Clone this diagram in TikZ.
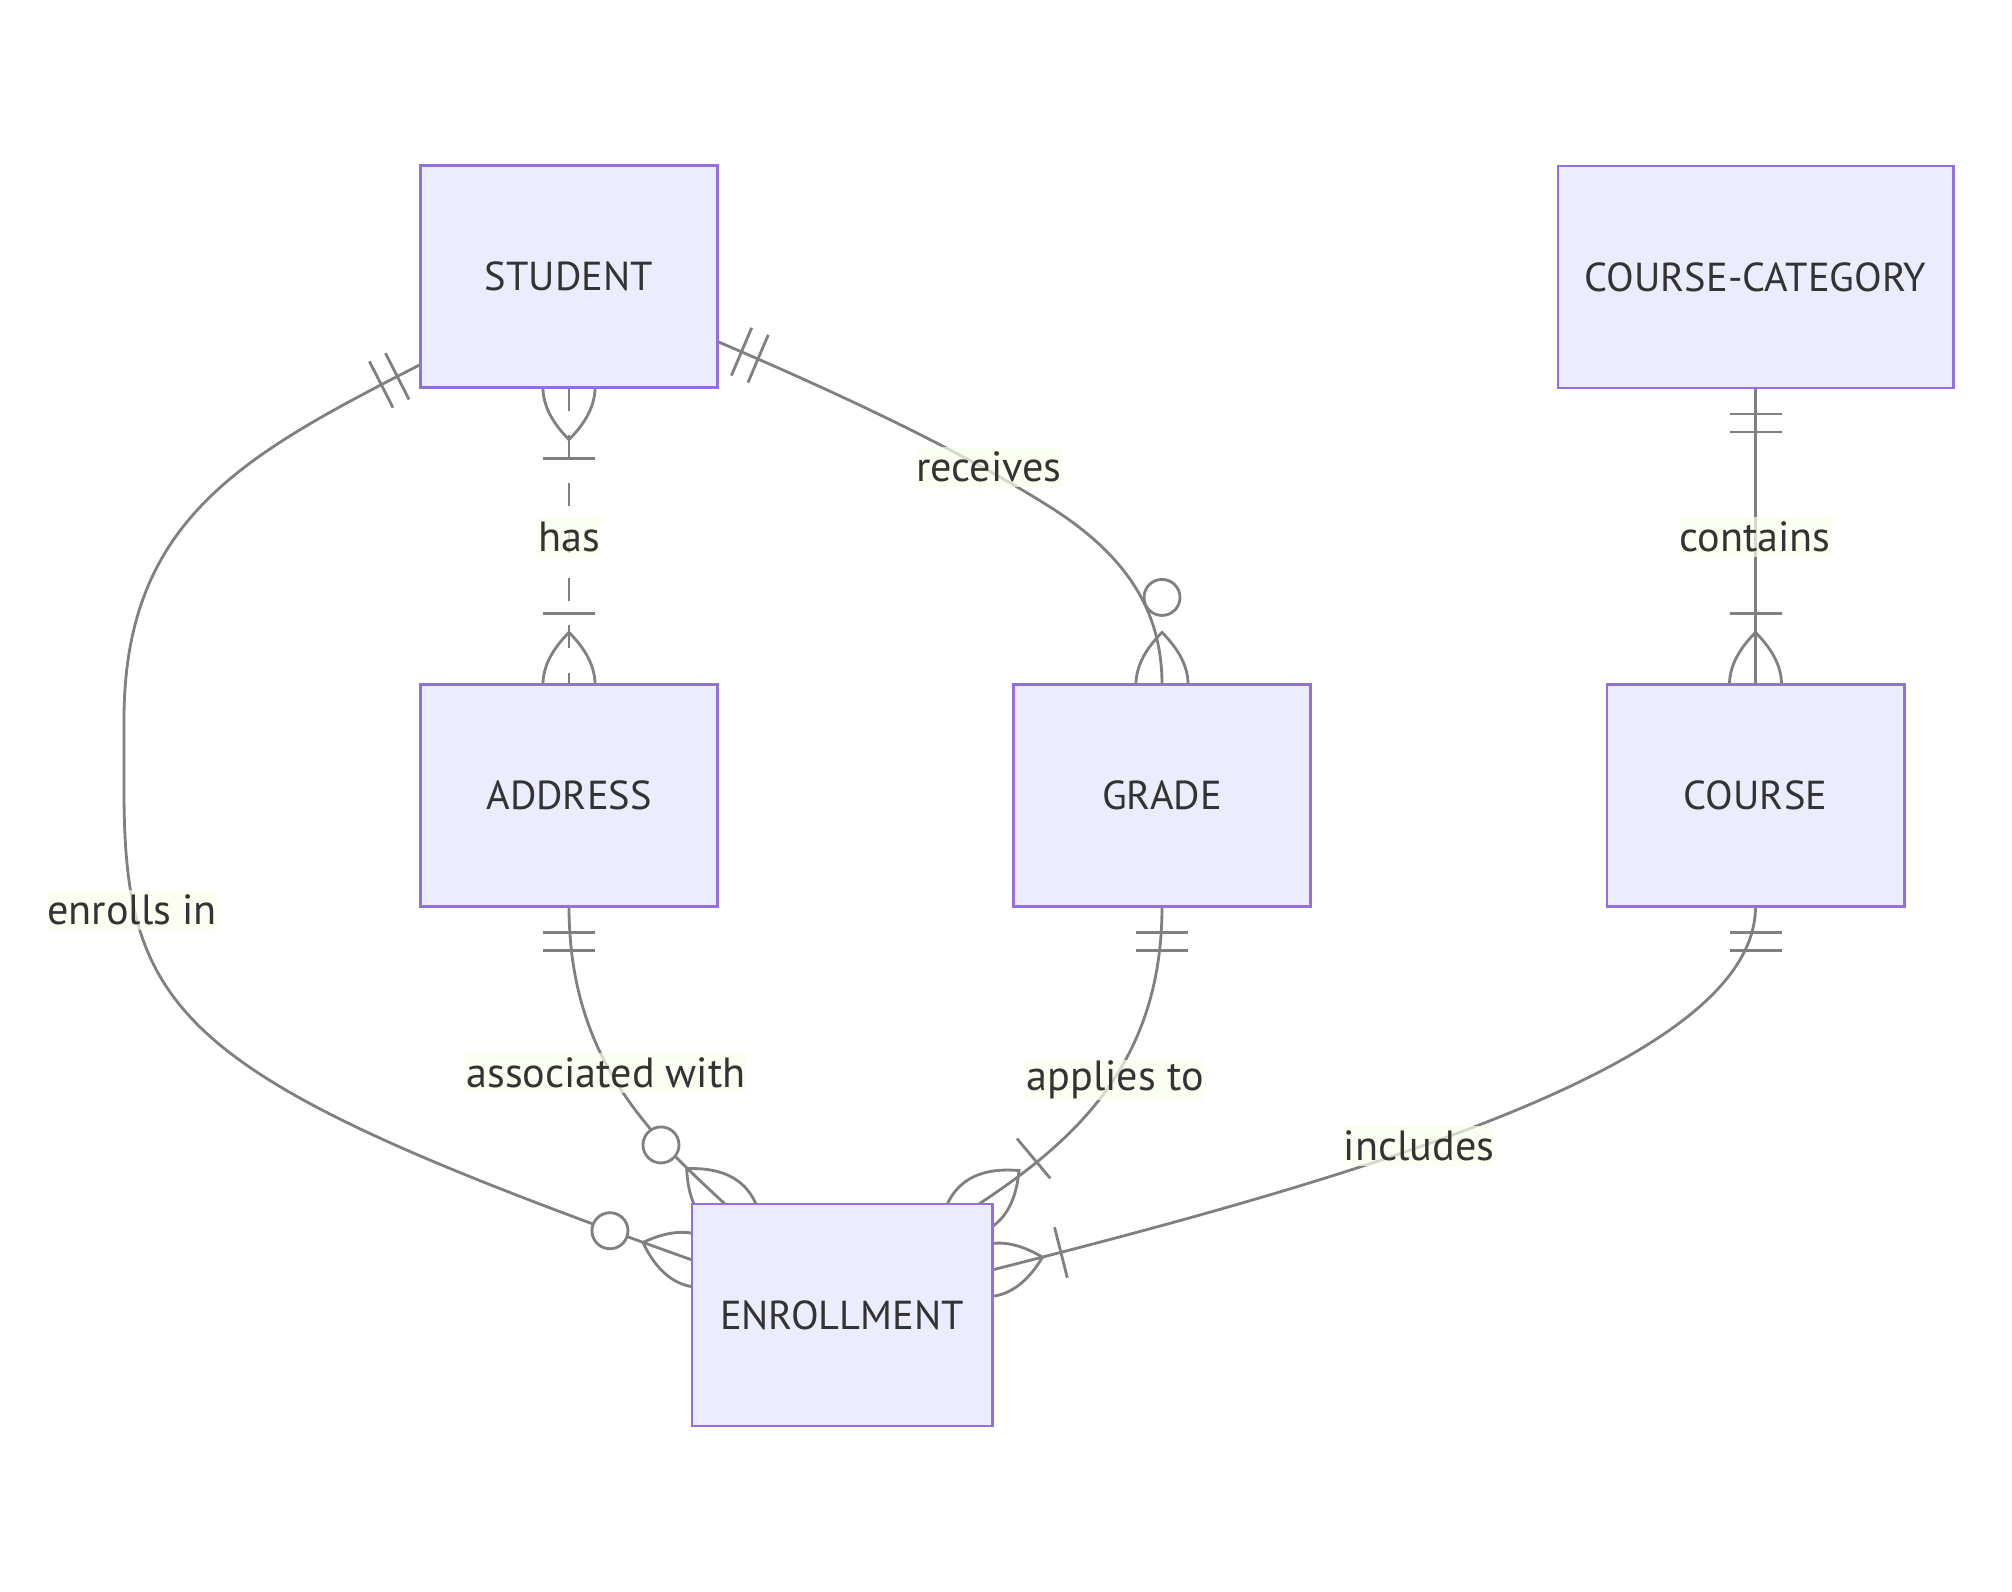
\documentclass[tikz,border=0pt]{standalone}
\usepackage{fontspec}
\setmainfont{PT Sans}
\usetikzlibrary{backgrounds,calc}
\definecolor{boxfill}{HTML}{ECECFF}
\definecolor{boxline}{HTML}{9370DB}
\definecolor{relline}{HTML}{808080}
\definecolor{ink}{HTML}{333333}
\definecolor{labelbg}{HTML}{F9FFEC}

\newcommand{\onlyone}[2]{%
  \begin{scope}[shift={(#1)},rotate=#2]
    \draw[rel] (26,-26) -- (26,26) (44,-26) -- (44,26);
  \end{scope}}
\newcommand{\onemany}[2]{%
  \begin{scope}[shift={(#1)},rotate=#2]
    \draw[rel] (-52,0) .. controls (-17.3,34.7) and (17.3,34.7) .. (52,0)
      .. controls (17.3,-34.7) and (-17.3,-34.7) .. (-52,0);
    \draw[rel] (71,-26) -- (71,26);
  \end{scope}}
\newcommand{\zeromany}[2]{%
  \begin{scope}[shift={(#1)},rotate=#2]
    \draw[rel] (-52,0) .. controls (-17.3,34.7) and (17.3,34.7) .. (52,0)
      .. controls (17.3,-34.7) and (-17.3,-34.7) .. (-52,0);
    \draw[rel,fill=white] (87,0) circle[radius=0.18cm];
  \end{scope}}

\begin{document}
\begin{tikzpicture}[x=0.01cm, y=-0.01cm,
    entity/.style={draw=boxline, fill=boxfill, line width=0.8pt, text=ink,
      minimum width=2.97cm, minimum height=2.22cm, inner sep=0pt, outer sep=0pt,
      font=\fontsize{11.5pt}{13pt}\selectfont},
    rel/.style={draw=relline, line width=0.8pt},
    dashrel/.style={rel, dash pattern=on 0.23cm off 0.245cm},
    lbl/.style={fill=labelbg, fill opacity=0.7, text opacity=1, text=ink,
      inner xsep=0pt, inner ysep=0pt, minimum height=0.4cm,
      font=\fontsize{12pt}{14pt}\selectfont}]
  \useasboundingbox (0,0) rectangle (2012,1592);

  \node[entity] (student) at (569,276.5) {STUDENT};
  \node[entity, minimum width=3.95cm] (coursecat) at (1755.5,277) {COURSE-CATEGORY};
  \node[entity] (address) at (569,795.5) {ADDRESS};
  \node[entity] (grade) at (1162,795.5) {GRADE};
  \node[entity] (course) at (1755.5,795.5) {COURSE};
  \node[entity, minimum width=3cm] (enrollment) at (842,1315) {ENROLLMENT};

  \coordinate (s1) at ($(student.south west)+(0,-23)$);
  \coordinate (e1) at ($(enrollment.north west)+(0,56)$);
  \coordinate (s3) at ($(student.south east)+(0,-46)$);
  \coordinate (e5) at ($(enrollment.north west)+(33,0)$);
  \coordinate (e6) at ($(enrollment.north east)+(-13,0)$);
  \coordinate (e7) at ($(enrollment.north east)+(0,66)$);

  \begin{scope}[on background layer]
    \draw[rel] (s1) .. controls +(-178,91) and +(0,-200) .. (124,720)
      -- (124,790) .. controls +(0,228) and +(-510,-182) .. (e1);
    \onlyone{s1}{-153}
    \zeromany{e1}{160.4}

    \draw[dashrel] (student.south) -- (address.north);
    \onemany{student.south}{-90}
    \onemany{address.north}{90}

    \draw[rel] (s3) .. controls +(110,47) and +(-93,-59) .. (1050,507)
      .. controls +(76,48) and +(0,-74) .. (grade.north);
    \onlyone{s3}{-23}
    \zeromany{grade.north}{90}

    \draw[rel] (coursecat.south) -- (course.north);
    \onlyone{coursecat.south}{-90}
    \onemany{course.north}{90}

    \draw[rel] (address.south) .. controls +(0,153) and +(-73.5,-68) .. (e5);
    \onlyone{address.south}{-90}
    \zeromany{e5}{137.3}

    \draw[rel] (grade.south) .. controls +(0,153) and +(100,-66) .. (e6);
    \onlyone{grade.south}{-90}
    \onemany{e6}{39.9}

    \draw[rel] (course.south) .. controls +(0,153) and +(388,-98) .. (e7);
    \onlyone{course.south}{-90}
    \onemany{e7}{14.2}
  \end{scope}

  \node[lbl] (lenr) at (132,910) {enrolls in};
  \node[lbl] (lhas) at (569,537) {has};
  \node[lbl] (lrec) at (989,467) {receives};
  \node[lbl] (lcon) at (1755,537) {contains};
  \node[lbl] (lass) at (606,1073) {associated with};
  \node[lbl] (lapp) at (1115,1080) {applies to};
  \node[lbl] (linc) at (1419,1146) {includes};
\end{tikzpicture}
\end{document}
